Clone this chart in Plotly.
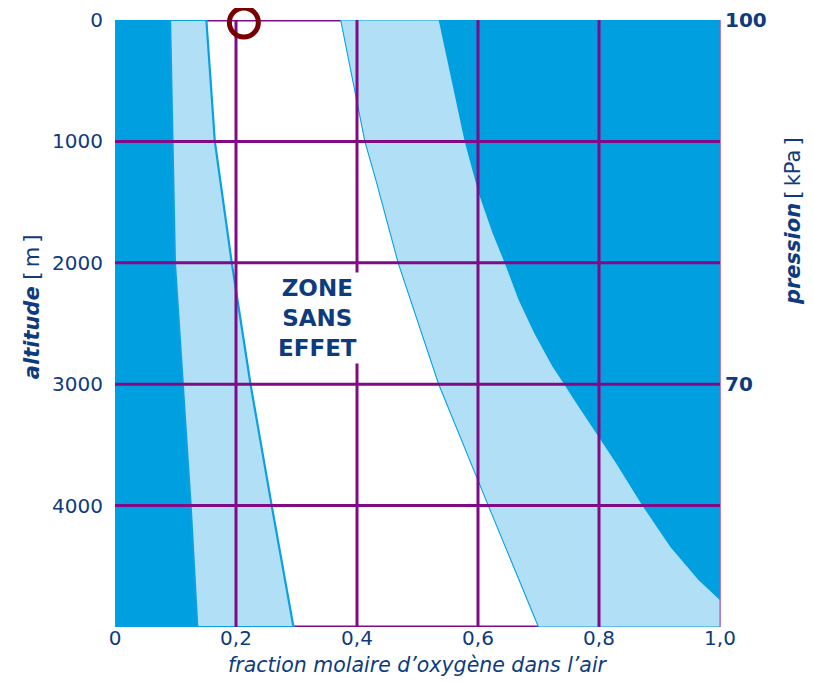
import plotly.graph_objects as go

# ---------------- data ----------------
ALT = [0, 1000, 1315, 2000, 3000, 3458, 4000, 5000]                  # altitude [m]
DARK_LEFT = [0.091, 0.095, 0.096, 0.099, 0.112, 0.118, 0.125, 0.136]  # hypoxia boundary
LIGHT_LEFT = [0.151, 0.165, 0.174, 0.193, 0.224, 0.240, 0.259, 0.295]  # start of "no effect" zone
LIGHT_RIGHT = [0.373, 0.413, 0.431, 0.468, 0.535, 0.572, 0.617, 0.700]  # end of "no effect" zone
DARK_RIGHT_ALT = [0, 380, 1000, 1425, 1755, 2000, 2305, 2580, 2855, 3005, 3130,
                  3430, 3650, 3995, 4340, 4610, 4780]
DARK_RIGHT = [0.535, 0.551, 0.578, 0.601, 0.624, 0.644, 0.667, 0.693, 0.723, 0.743, 0.759,
              0.799, 0.828, 0.871, 0.918, 0.964, 1.0]

AIR_O2 = [0.213]      # oxygen fraction of air at sea level
AIR_ALT = [20]

X_TICKS = [0, 0.2, 0.4, 0.6, 0.8, 1.0]
X_LABELS = ["0", "0,2", "0,4", "0,6", "0,8", "1,0"]
Y_TICKS = [0, 1000, 2000, 3000, 4000, 5000]
Y_LABELS = ["0", "1000", "2000", "3000", "4000", ""]
P_TICKS = [0, 3000]
P_LABELS = ["<b>100</b>", "<b>70</b>"]

ZONE_TEXT = "<b>ZONE<br>SANS<br>EFFET</b>"
ZONE_POS = (0.334, 2455)

# ---------------- styles ----------------
DARK = "#009fe0"
LIGHT = "#b1dff5"
EDGE = "#0aa0e4"
PURPLE = "#810a87"
NAVY = "#0e3b7e"
RED = "#7a0000"
FONT = "DejaVu Sans"
THIN = "\u2009"

XMIN, XMAX = X_TICKS[0], X_TICKS[-1]
YMIN, YMAX = Y_TICKS[0], Y_TICKS[-1]

fig = go.Figure()

# frame lines top / bottom (under the fills)
fig.add_trace(go.Scatter(
    x=[XMIN, XMAX, None, XMIN, XMAX], y=[YMIN, YMIN, None, YMAX, YMAX],
    mode="lines", line=dict(color=PURPLE, width=3), hoverinfo="skip"))

# dark left zone
fig.add_trace(go.Scatter(
    x=[XMIN] + DARK_LEFT + [XMIN], y=[ALT[0]] + ALT + [ALT[-1]],
    fill="toself", fillcolor=DARK, mode="lines", line=dict(width=0, color=DARK),
    hoverinfo="skip"))

# light left zone
fig.add_trace(go.Scatter(
    x=DARK_LEFT + LIGHT_LEFT[::-1] + [DARK_LEFT[0]], y=ALT + ALT[::-1] + [ALT[0]],
    fill="toself", fillcolor=LIGHT, mode="lines", line=dict(width=2.2, color=EDGE),
    hoverinfo="skip"))

# light right zone
fig.add_trace(go.Scatter(
    x=LIGHT_RIGHT + [XMAX, XMAX, LIGHT_RIGHT[0]], y=ALT + [ALT[-1], ALT[0], ALT[0]],
    fill="toself", fillcolor=LIGHT, mode="lines", line=dict(width=1.1, color=EDGE),
    hoverinfo="skip"))

# dark right zone
fig.add_trace(go.Scatter(
    x=DARK_RIGHT + [XMAX, DARK_RIGHT[0]], y=DARK_RIGHT_ALT + [DARK_RIGHT_ALT[0], DARK_RIGHT_ALT[0]],
    fill="toself", fillcolor=DARK, mode="lines", line=dict(width=0, color=DARK),
    hoverinfo="skip"))

# grid lines above fills
gx, gy = [], []
for t in X_TICKS[1:-1]:
    gx += [t, t, None]
    gy += [YMIN, YMAX, None]
for t in Y_TICKS[1:-1]:
    gx += [XMIN, XMAX, None]
    gy += [t, t, None]
fig.add_trace(go.Scatter(x=gx, y=gy, mode="lines", line=dict(color=PURPLE, width=3),
                         hoverinfo="skip"))

# sea-level air composition marker
fig.add_trace(go.Scatter(
    x=AIR_O2, y=AIR_ALT, yaxis="y2", mode="markers",
    marker=dict(size=29, color="rgba(0,0,0,0)", line=dict(color=RED, width=5)),
    cliponaxis=False, hoverinfo="skip"))

fig.add_annotation(
    x=ZONE_POS[0], y=ZONE_POS[1], xref="x", yref="y", text=ZONE_TEXT, showarrow=False,
    font=dict(family=FONT, size=23, color=NAVY), bgcolor="white", borderpad=2, align="center")

# axis titles
fig.add_annotation(
    x=-0.137, y=0.527, xref="paper", yref="paper", xanchor="center", yanchor="middle",
    textangle=-90, showarrow=False,
    text=f"<b><i>altitude</i></b> [{THIN}m{THIN}]", font=dict(family=FONT, size=21, color=NAVY))
fig.add_annotation(
    x=1.12, y=0.668, xref="paper", yref="paper", xanchor="center", yanchor="middle",
    textangle=-90, showarrow=False,
    text=f"<b><i>pression</i></b>{THIN}[{THIN}kPa{THIN}]", font=dict(family=FONT, size=21, color=NAVY))
fig.add_annotation(
    x=0.5, y=-0.063, xref="paper", yref="paper", xanchor="center", yanchor="middle",
    showarrow=False,
    text="<i>fraction molaire d’oxygène dans l’air</i>", font=dict(family=FONT, size=20.5, color=NAVY))

# The page body has an 8 px margin, so the figure is 8 px smaller and offset accordingly.
fig.update_layout(
    width=806, height=674,
    margin=dict(l=107, r=94, t=12, b=55, autoexpand=False),
    paper_bgcolor="white", plot_bgcolor="white",
    showlegend=False,
    font=dict(family=FONT, color=NAVY),
    xaxis=dict(range=[XMIN, XMAX], tickvals=X_TICKS, ticktext=X_LABELS, showgrid=False,
               zeroline=False, showline=False, ticks="", tickfont=dict(size=20, color=NAVY),
               ticklabelstandoff=-3, automargin=False, fixedrange=True),
    yaxis=dict(range=[YMAX, YMIN], tickvals=Y_TICKS, ticktext=Y_LABELS, showgrid=False,
               zeroline=False, showline=False, ticks="", tickfont=dict(size=20, color=NAVY),
               ticklabelstandoff=11, automargin=False, fixedrange=True),
    yaxis2=dict(range=[YMAX, YMIN], overlaying="y", side="right", tickvals=P_TICKS,
                ticktext=P_LABELS, showgrid=False, zeroline=False, showline=True,
                linecolor="#b77fc9", linewidth=1, ticks="",
                tickfont=dict(size=20, color=NAVY), ticklabelstandoff=0,
                automargin=False, fixedrange=True),
)

fig.write_html("out.html")
